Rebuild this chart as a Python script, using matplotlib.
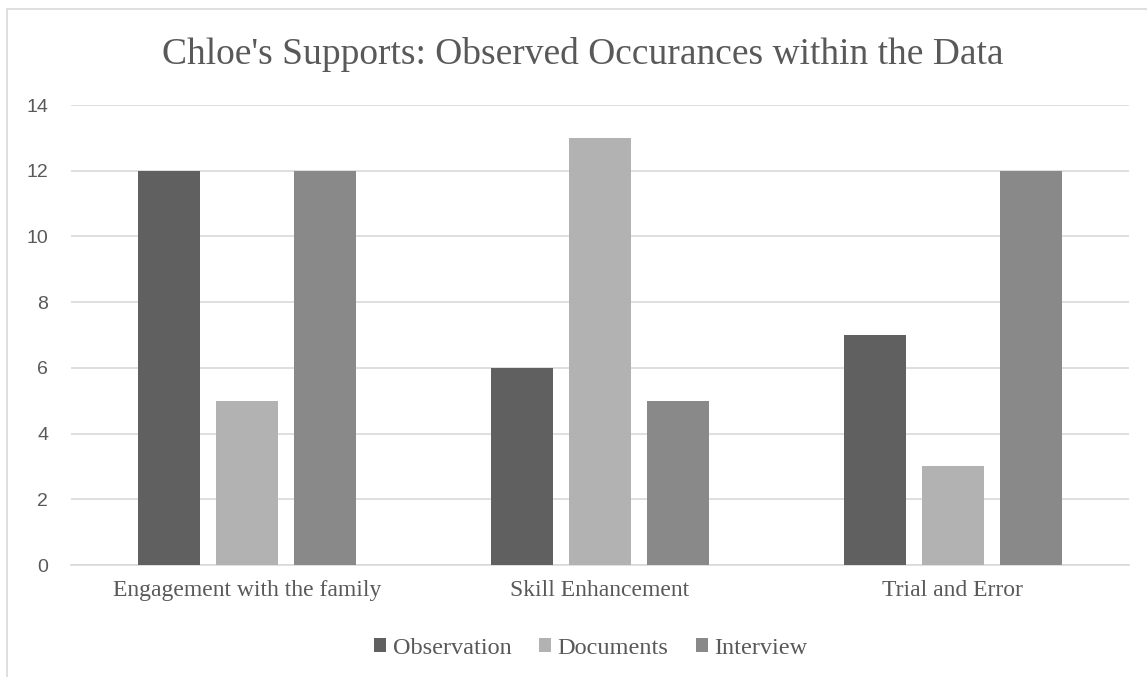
import matplotlib
matplotlib.use("Agg")
import matplotlib.pyplot as plt
import numpy as np
from matplotlib.patches import Rectangle

categories = ["Engagement with the family", "Skill Enhancement", "Trial and Error"]
series_names = ["Observation", "Documents", "Interview"]
observation = [12, 6, 7]
documents = [5, 13, 3]
interview = [12, 5, 12]
yticks = [0, 2, 4, 6, 8, 10, 12, 14]

colors = ["#606060", "#b2b2b2", "#898989"]
text_color = "#595959"

fig = plt.figure(figsize=(11.47, 6.77), dpi=100)
# outer chart border (light gray)
fig.patches.append(Rectangle((7/1147, -0.1), 1.2, (677-9)/677 + 0.1, transform=fig.transFigure,
                             fill=False, edgecolor="#d9d9d9", linewidth=1.2))

ax = fig.add_axes([71/1147, 1-565/677, (1129-71)/1147, (565-105)/677])
x = np.arange(len(categories))
w = 0.176
step = 0.221
for i, (name, vals) in enumerate(zip(series_names, [observation, documents, interview])):
    ax.bar(x + (i-1)*step, vals, width=w, color=colors[i], label=name, zorder=3)

ax.set_xlim(-0.5, 2.5)
ax.set_ylim(0, 14)
ax.set_yticks(yticks)
ax.set_yticklabels([str(t) for t in yticks], fontsize=14, color=text_color, family="Liberation Sans")
ax.set_xticks(x)
ax.set_xticklabels(categories, fontsize=17, color=text_color, family="Liberation Serif")
ax.tick_params(axis="both", length=0)
ax.tick_params(axis="y", pad=16.5)
ax.tick_params(axis="x", pad=11)
ax.yaxis.grid(True, color="#d9d9d9", linewidth=1.2, zorder=0)
for s in ["top", "right", "left"]:
    ax.spines[s].set_visible(False)
ax.spines["bottom"].set_color("#d9d9d9")
ax.spines["bottom"].set_linewidth(1.2)

fig.text(583/1147, 1-54/677, "Chloe's Supports: Observed Occurances within the Data", ha="center", va="center",
         fontsize=27, color=text_color, family="Liberation Serif")

leg = fig.legend(loc="center", bbox_to_anchor=(591/1147, 1-648/677), ncol=3, frameon=False,
                 prop={"family": "Liberation Serif", "size": 17.5}, handlelength=0.5, handleheight=0.5,
                 handletextpad=0.25, columnspacing=1.15, borderpad=0)
for t in leg.get_texts():
    t.set_color(text_color)

fig.savefig("out.png", dpi=100)
